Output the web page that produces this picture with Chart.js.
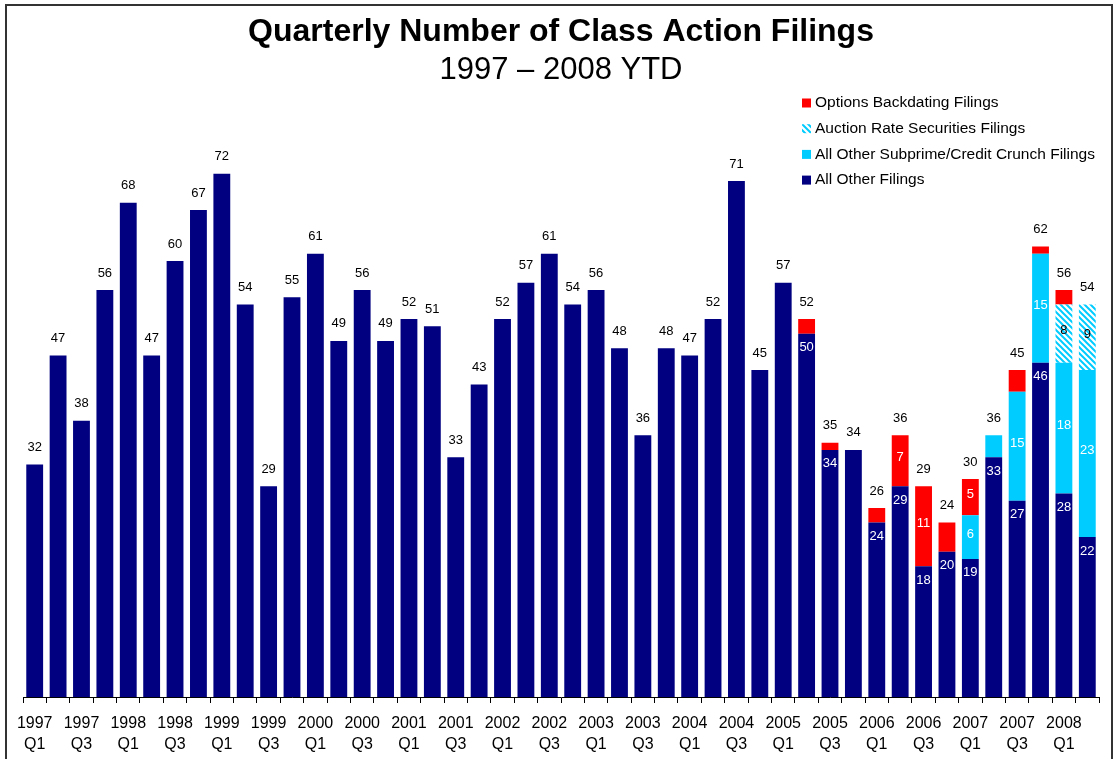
<!DOCTYPE html>
<html>
<head>
<meta charset="utf-8">
<script src="https://cdn.jsdelivr.net/npm/chart.js@4.4.1/dist/chart.umd.min.js"></script>
<style>
  html, body { margin: 0; background: #fff; overflow: hidden; }
  #wrap { width: 1118px; height: 759px; overflow: hidden; }
</style>
</head>
<body>
<div id="wrap"><canvas id="filings-chart" width="1118" height="765"></canvas></div>
<script>
// Quarters, 1997 Q1 .. 2008 Q2 (YTD)
const quarters = [
    '1997 Q1', '1997 Q2', '1997 Q3', '1997 Q4',
    '1998 Q1', '1998 Q2', '1998 Q3', '1998 Q4',
    '1999 Q1', '1999 Q2', '1999 Q3', '1999 Q4',
    '2000 Q1', '2000 Q2', '2000 Q3', '2000 Q4',
    '2001 Q1', '2001 Q2', '2001 Q3', '2001 Q4',
    '2002 Q1', '2002 Q2', '2002 Q3', '2002 Q4',
    '2003 Q1', '2003 Q2', '2003 Q3', '2003 Q4',
    '2004 Q1', '2004 Q2', '2004 Q3', '2004 Q4',
    '2005 Q1', '2005 Q2', '2005 Q3', '2005 Q4',
    '2006 Q1', '2006 Q2', '2006 Q3', '2006 Q4',
    '2007 Q1', '2007 Q2', '2007 Q3', '2007 Q4',
    '2008 Q1', '2008 Q2'
];

const otherFilings = [
    32, 47, 38, 56,
    68, 47, 60, 67,
    72, 54, 29, 55,
    61, 49, 56, 49,
    52, 51, 33, 43,
    52, 57, 61, 54,
    56, 48, 36, 48,
    47, 52, 71, 45,
    57, 50, 34, 34,
    24, 29, 18, 20,
    19, 33, 27, 46,
    28, 22
];

const subprimeFilings = [
    0, 0, 0, 0, 0, 0, 0, 0, 0, 0, 0, 0, 0, 0, 0, 0, 0, 0, 0, 0,
    0, 0, 0, 0, 0, 0, 0, 0, 0, 0, 0, 0, 0, 0, 0, 0, 0, 0, 0, 0,
    6, 3, 15, 15,
    18, 23
];

const auctionRateFilings = [
    0, 0, 0, 0, 0, 0, 0, 0, 0, 0, 0, 0, 0, 0, 0, 0, 0, 0, 0, 0,
    0, 0, 0, 0, 0, 0, 0, 0, 0, 0, 0, 0, 0, 0, 0, 0, 0, 0, 0, 0,
    0, 0, 0, 0,
    8, 9
];

const backdatingFilings = [
    0, 0, 0, 0, 0, 0, 0, 0, 0, 0, 0, 0, 0, 0, 0, 0, 0, 0, 0, 0,
    0, 0, 0, 0, 0, 0, 0, 0, 0, 0, 0, 0,
    0, 2, 1, 0,
    2, 7, 11, 4,
    5, 0, 3, 1,
    2, 0
];

const FONT = 'Arial, "Liberation Sans", sans-serif';
const NAVY = '#000080';
const CYAN = '#00CCFF';
const RED = '#FF0000';

// diagonal cyan stripes for the auction rate segments
function makeHatch() {
    const c = document.createElement('canvas');
    c.width = 6;
    c.height = 6;
    const g = c.getContext('2d');
    g.fillStyle = '#ffffff';
    g.fillRect(0, 0, 6, 6);
    g.strokeStyle = CYAN;
    g.lineWidth = 2;
    g.beginPath();
    g.moveTo(-1, -1); g.lineTo(7, 7);
    g.moveTo(-4, 2); g.lineTo(4, 10);
    g.moveTo(2, -4); g.lineTo(10, 4);
    g.stroke();
    return g.createPattern(c, 'repeat');
}
const hatch = makeHatch();

const totals = quarters.map((q, i) =>
    otherFilings[i] + subprimeFilings[i] + auctionRateFilings[i] + backdatingFilings[i]);

// value labels: totals on top, segment values inside stacked bars
const labelPlugin = {
    id: 'labels',
    afterDatasetsDraw(chart) {
        const ctx = chart.ctx;
        ctx.save();
        ctx.font = '13px ' + FONT;
        ctx.textAlign = 'center';
        ctx.textBaseline = 'middle';
        quarters.forEach((q, i) => {
            const stacked = totals[i] !== otherFilings[i];
            let topY = Infinity, x = 0;
            chart.data.datasets.forEach((ds, d) => {
                const bar = chart.getDatasetMeta(d).data[i];
                const v = ds.data[i];
                if (!v) return;
                x = bar.x;
                topY = Math.min(topY, bar.y);
                if (!stacked) return;
                if (d === 0) {
                    ctx.fillStyle = '#ffffff';
                    ctx.fillText(v, bar.x, bar.y + 14);
                } else if (v >= 5) {
                    ctx.fillStyle = d === 2 ? '#000000' : '#ffffff';
                    ctx.fillText(v, bar.x, (bar.y + bar.base) / 2 - 3);
                }
            });
            ctx.fillStyle = '#000000';
            ctx.fillText(totals[i], x, topY - 17);
        });
        ctx.restore();
    }
};

// legend list and outer frame
const legendPlugin = {
    id: 'sideLegend',
    afterDraw(chart) {
        const ctx = chart.ctx;
        const items = [
            ['Options Backdating Filings', RED],
            ['Auction Rate Securities Filings', hatch],
            ['All Other Subprime/Credit Crunch Filings', CYAN],
            ['All Other Filings', NAVY]
        ];
        ctx.save();
        ctx.font = '15.5px ' + FONT;
        ctx.textBaseline = 'middle';
        items.forEach((it, k) => {
            const y = 103 + k * 25.7;
            ctx.fillStyle = it[1];
            ctx.fillRect(802, y - 4.5, 9, 9);
            ctx.fillStyle = '#000000';
            ctx.fillText(it[0], 815, y);
        });
        ctx.strokeStyle = '#333333';
        ctx.lineWidth = 2;
        ctx.strokeRect(6, 5, 1106, 800);
        ctx.restore();
    }
};

const ctx = document.getElementById('filings-chart').getContext('2d');
new Chart(ctx, {
    type: 'bar',
    data: {
        labels: quarters,
        datasets: [
            { label: 'All Other Filings', data: otherFilings, backgroundColor: NAVY },
            { label: 'All Other Subprime/Credit Crunch Filings', data: subprimeFilings, backgroundColor: CYAN },
            { label: 'Auction Rate Securities Filings', data: auctionRateFilings, backgroundColor: hatch },
            { label: 'Options Backdating Filings', data: backdatingFilings, backgroundColor: RED }
        ]
    },
    options: {
        responsive: false,
        animation: false,
        barPercentage: 0.72,
        categoryPercentage: 1,
        layout: { padding: { left: 23, right: 19, bottom: 0 } },
        plugins: {
            legend: { display: false },
            tooltip: { enabled: false },
            title: {
                display: true,
                text: 'Quarterly Number of Class Action Filings',
                color: '#000000',
                font: { family: FONT, size: 32, weight: 'bold' },
                padding: { top: 13, bottom: 0 }
            },
            subtitle: {
                display: true,
                text: '1997 – 2008 YTD',
                color: '#000000',
                font: { family: FONT, size: 31 },
                padding: { top: 0, bottom: 27 }
            }
        },
        scales: {
            x: {
                stacked: true,
                border: { color: '#000000', width: 1 },
                grid: { offset: true, drawOnChartArea: false, drawTicks: true, tickLength: 6, tickColor: '#000000' },
                ticks: {
                    autoSkip: false,
                    maxRotation: 0,
                    padding: 10,
                    color: '#000000',
                    font: { family: FONT, size: 16, lineHeight: 1.3125 },
                    callback: function (value, index) {
                        return index % 2 === 0 ? quarters[index].split(' ') : '';
                    }
                }
            },
            y: {
                stacked: true,
                display: false,
                min: 0,
                max: 80
            }
        }
    },
    plugins: [labelPlugin, legendPlugin]
});
</script>
</body>
</html>
